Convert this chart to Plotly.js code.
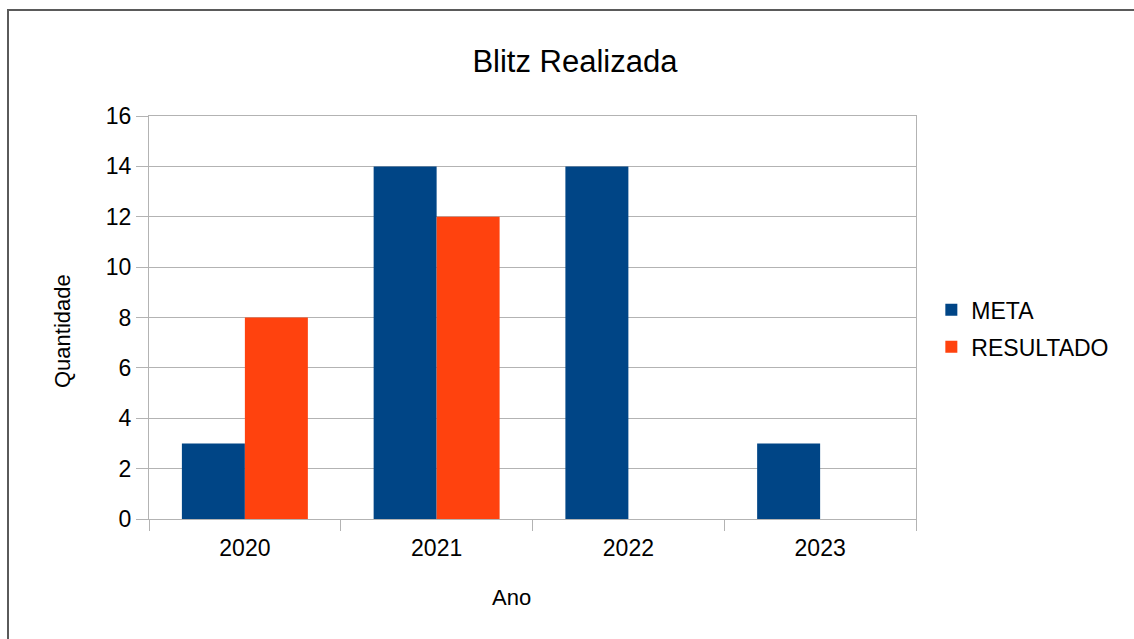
<!DOCTYPE html>
<html>
<head>
<meta charset="utf-8">
<script src="https://cdn.plot.ly/plotly-3.0.1.min.js"></script>
<style>
  html, body { margin: 0; padding: 0; background: #fff; }
  #wrap { position: relative; width: 1134px; height: 639px; overflow: hidden; }
  #chart { position: absolute; left: 0; top: 0; width: 1134px; height: 639px; }
  #frame { position: absolute; left: 7px; top: 9px; width: 1200px; height: 700px;
           border-top: 2px solid #5a5a5a; border-left: 2px solid #5a5a5a; pointer-events: none; }
</style>
</head>
<body>
<div id="wrap">
  <div id="chart"></div>
  <div id="frame"></div>
</div>
<script>
const categories = ["2020", "2021", "2022", "2023"];
const metaValues = [3, 14, 14, 3];
const resultadoValues = [8, 12, 0, 0];
const yTicks = [0, 2, 4, 6, 8, 10, 12, 14, 16];

const font = "'Liberation Sans', Arial, sans-serif";

const traces = [
  { type: "bar", name: "META", x: categories, y: metaValues,
    marker: { color: "#004586", line: { width: 0 } }, legendgroup: "a", hoverinfo: "none" },
  { type: "bar", name: "RESULTADO", x: categories, y: resultadoValues,
    marker: { color: "#ff420e", line: { width: 0 } }, legendgroup: "b", hoverinfo: "none" }
];

const layout = {
  width: 1134, height: 639,
  paper_bgcolor: "#ffffff", plot_bgcolor: "#ffffff",
  margin: { l: 149, r: 218, t: 116, b: 120, pad: 0 },
  font: { family: font, color: "#000000", size: 23 },
  title: { text: "Blitz Realizada", font: { family: font, size: 31, color: "#000" },
           x: 0.507, xanchor: "center", xref: "container", y: 0.905, yanchor: "middle" },
  barmode: "group", bargap: 0.343, bargroupgap: 0,
  showlegend: true,
  legend: { x: 1.02, xanchor: "left", y: 0.473, yanchor: "middle",
            font: { family: font, size: 23, color: "#000" },
            traceorder: "grouped", tracegroupgap: 4, bgcolor: "rgba(0,0,0,0)" },
  xaxis: {
    type: "category", categoryorder: "array", categoryarray: categories,
    tickson: "boundaries", ticks: "outside", ticklen: 11, tickwidth: 1, tickcolor: "#b3b3b3",
    showgrid: false, showline: true, linecolor: "#b3b3b3", linewidth: 1, mirror: true,
    tickfont: { family: font, size: 23, color: "#000" }, ticklabelstandoff: 8,
    fixedrange: true
  },
  yaxis: {
    range: [0, 16], tickvals: yTicks, ticktext: yTicks.map(String),
    ticks: "outside", ticklen: 12, tickwidth: 1, tickcolor: "#b3b3b3",
    showgrid: true, gridcolor: "#b3b3b3", gridwidth: 1, zeroline: false,
    showline: true, linecolor: "#b3b3b3", linewidth: 1, mirror: true,
    tickfont: { family: font, size: 23, color: "#000" },
    fixedrange: true
  },
  annotations: [
    { text: "Ano", xref: "paper", yref: "paper", x: 0.472, y: -0.196,
      xanchor: "center", yanchor: "middle", showarrow: false,
      font: { family: font, size: 22, color: "#000" } },
    { text: "Quantidade", xref: "paper", yref: "paper", x: -0.1134, y: 0.4665,
      xanchor: "center", yanchor: "middle", showarrow: false, textangle: -90,
      font: { family: font, size: 22, color: "#000" } }
  ]
};

Plotly.newPlot("chart", traces, layout, { displayModeBar: false, staticPlot: true });
</script>
</body>
</html>
